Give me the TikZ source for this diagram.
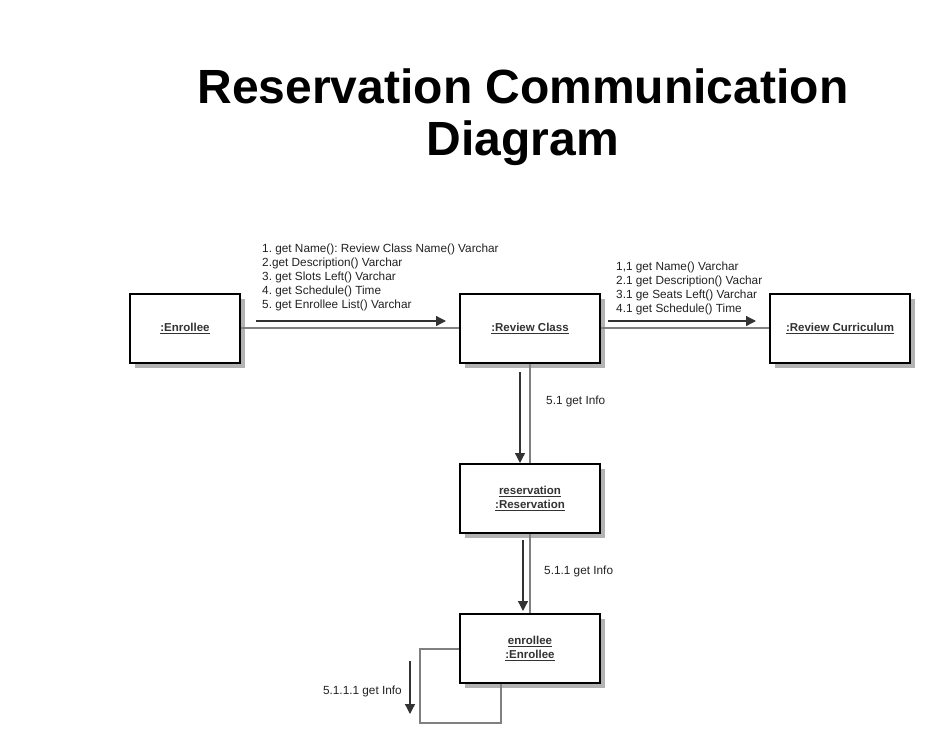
\documentclass[tikz,border=0pt]{standalone}
\usepackage{fontspec}
\setmainfont{Liberation Sans}
\usetikzlibrary{arrows.meta}
\definecolor{shadowgray}{HTML}{B3B3B3}
\definecolor{linegray}{HTML}{808080}
\definecolor{arrowgray}{HTML}{333333}
\definecolor{txtgray}{HTML}{222222}
\tikzset{
  obj/.style={draw=black, line width=2pt, fill=white, minimum width=140pt, minimum height=69pt, inner sep=0pt, align=center, font=\fontsize{11.5}{14}\selectfont\bfseries, text=arrowgray},
  conn/.style={draw=linegray, line width=1.5pt},
  msg/.style={draw=arrowgray, line width=1.3pt, -{Triangle[length=10pt,width=10pt]}},
  lbl/.style={font=\fontsize{11.8}{14}\selectfont, text=txtgray, inner sep=0pt, align=left},
}
\newcommand{\ul}[1]{\underline{#1}}
\newcommand{\objbox}[5]{%
  \fill[shadowgray] (#2+5,#3+5) rectangle (#2+#4+5,#3+69+5);
  \node[obj, minimum width=#4 pt] (#1) at (#2+#4/2,#3+34.5) {#5};
}
\begin{document}
\frenchspacing
\begin{tikzpicture}[x=1pt,y=-1pt]
\useasboundingbox[fill=white] (0,0) rectangle (930,748);
\node[font=\fontsize{48}{52}\selectfont\bfseries, align=center, inner sep=0pt] (title) at (523,117) {Reservation Communication\\Diagram};

\objbox{enr}{130}{294}{110}{\ul{:Enrollee}}
\objbox{rc}{460}{294}{140}{\ul{:Review Class}}
\objbox{cur}{770}{294}{140}{\ul{:Review Curriculum}}
\objbox{res}{460}{464}{140}{\ul{reservation}\\\ul{:Reservation}}
\objbox{en2}{460}{614}{140}{\ul{enrollee}\\\ul{:Enrollee}}

% connectors
\draw[conn] (enr.east |- 0,328) -- (rc.west |- 0,328);
\draw[conn] (rc.east |- 0,328) -- (cur.west |- 0,328);
\draw[conn] (rc.south) -- (res.north);
\draw[conn] (res.south) -- (en2.north);
\coordinate (l1) at (420,649);
\coordinate (l2) at (420,723);
\coordinate (l3) at (501,723);
\draw[conn] (en2.west |- l1) -- (l1) -- (l2) -- (l3) -- (l3 |- en2.south);

% message arrows
\coordinate (m1a) at (256,321); \coordinate (m1b) at (446,321);
\draw[msg] (m1a) -- (m1b);
\coordinate (m2a) at (608,321); \coordinate (m2b) at (756,321);
\draw[msg] (m2a) -- (m2b);
\coordinate (m3a) at (520,372); \coordinate (m3b) at (520,463);
\draw[msg] (m3a) -- (m3b);
\coordinate (m4a) at (523,540); \coordinate (m4b) at (523,611);
\draw[msg] (m4a) -- (m4b);
\coordinate (m5a) at (410,661); \coordinate (m5b) at (410,714);
\draw[msg] (m5a) -- (m5b);

% labels
\node[lbl, anchor=north west] (t1) at (262,243.5) {1. get Name(): Review Class Name() Varchar\\2.get Description() Varchar\\3. get Slots Left() Varchar\\4. get Schedule() Time\\5. get Enrollee List() Varchar};
\node[lbl, anchor=north west] (t2) at (616,261.5) {1,1 get Name() Varchar\\2.1 get Description() Vachar\\3.1 ge Seats Left() Varchar\\4.1 get Schedule() Time};
\node[lbl, anchor=west] (t3) at (546,401.5) {5.1 get Info};
\node[lbl, anchor=west] (t4) at (544,571.5) {5.1.1 get Info};
\node[lbl, anchor=east] (t5) at (402,691.5) {5.1.1.1 get Info};
\end{tikzpicture}
\end{document}
